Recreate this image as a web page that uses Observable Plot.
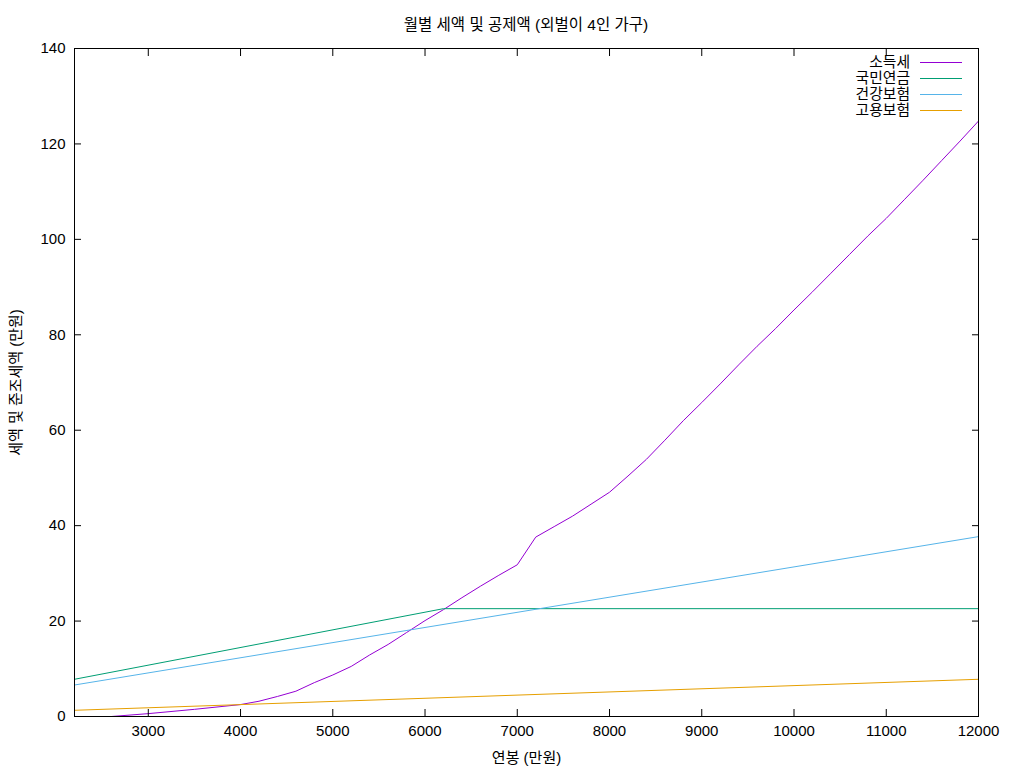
<!DOCTYPE html>
<html><head><meta charset="utf-8">
<script src="https://cdn.jsdelivr.net/npm/d3@7"></script>
<script src="https://cdn.jsdelivr.net/npm/@observablehq/plot@0.6"></script>
<style>
body{margin:0;background:#fff;font-family:"Liberation Sans","Noto Sans CJK KR",sans-serif;}
#wrap{position:relative;width:1024px;height:768px;background:#fff;}
#title{height:40px;box-sizing:border-box;padding-top:16px;padding-left:28px;line-height:18px;font-size:15.5px;text-align:center;color:#000;}
#legend{position:absolute;right:62px;top:54px;font-size:14.8px;color:#000;}
.row{display:flex;justify-content:flex-end;align-items:center;height:16px;line-height:16px;}
.sw{display:inline-block;width:42px;height:0;border-top:1px solid;margin-left:10px;}
</style></head>
<body>
<div id="wrap">
<div id="title">월별 세액 및 공제액 (외벌이 4인 가구)</div>
<div id="chart"></div>
<div id="legend"></div>
</div>
<script>
const seriesNames = ["소득세", "국민연금", "건강보험", "고용보험"];
const seriesColors = ["#9400d3", "#009e73", "#56b4e9", "#e69f00"];

const taxSalary = [2200, 2600, 3000, 3500, 4000, 4200, 4400, 4600, 4800, 5000, 5200, 5400, 5600, 5800, 6000, 6200, 6400, 6600, 6800, 7000, 7200, 7400, 7600, 7800, 8000, 8200, 8400, 8600, 8800, 9000, 9200, 9400, 9600, 9800, 10000, 10200, 10400, 10600, 10800, 11000, 11200, 11400, 11600, 11800, 12000];
const taxValue = [0, 0, 0.6, 1.5, 2.5, 3.2, 4.2, 5.3, 7.1, 8.7, 10.5, 12.9, 15.1, 17.6, 20.1, 22.4, 24.9, 27.3, 29.6, 31.8, 37.6, 39.8, 42.0, 44.5, 47.0, 50.4, 53.9, 57.9, 62.0, 65.8, 69.7, 73.7, 77.6, 81.3, 85.2, 89.0, 92.9, 96.8, 100.7, 104.4, 108.4, 112.4, 116.5, 120.6, 124.8];

const pensionSalary = [2200, 6200, 12000];
const pensionValue = [7.8, 22.6, 22.6];

const healthSalary = [2200, 12000];
const healthValue = [6.6, 37.7];

const employSalary = [2200, 12000];
const employValue = [1.3, 7.8];

const xTicks = [3000, 4000, 5000, 6000, 7000, 8000, 9000, 10000, 11000, 12000];
const yTicks = [0, 20, 40, 60, 80, 100, 120, 140];

const rows = [];
function add(name, xs, ys) { xs.forEach((x, i) => rows.push({series: name, salary: x, value: ys[i]})); }
add(seriesNames[0], taxSalary, taxValue);
add(seriesNames[1], pensionSalary, pensionValue);
add(seriesNames[2], healthSalary, healthValue);
add(seriesNames[3], employSalary, employValue);

const font = '"Liberation Sans","Noto Sans CJK KR",sans-serif';
const chart = Plot.plot({
  width: 1024, height: 728,
  marginTop: 8, marginBottom: 52, marginLeft: 74, marginRight: 46,
  style: {fontFamily: font, fontSize: "15px", background: "white", color: "black", overflow: "visible"},
  x: {domain: [2200, 12000]},
  y: {domain: [0, 140]},
  color: {domain: seriesNames, range: seriesColors},
  marks: [
    Plot.line(rows, {x: "salary", y: "value", z: "series", stroke: "series", strokeWidth: 1, clip: true}),
    Plot.axisX(xTicks, {anchor: "bottom", tickSize: 0, tickPadding: 9, tickFormat: d => String(d), label: "연봉 (만원)", labelAnchor: "center", labelArrow: "none", labelOffset: 46, fontSize: 15}),
    Plot.axisX(xTicks, {anchor: "bottom", tickSize: 7, text: null, dy: -7, label: null}),
    Plot.axisX(xTicks, {anchor: "top", tickSize: 7, text: null, dy: 7, label: null}),
    Plot.axisY(yTicks, {anchor: "left", tickSize: 0, tickPadding: 9, tickFormat: d => String(d), label: "세액 및 준조세액 (만원)", labelAnchor: "center", labelArrow: "none", labelOffset: 64, fontSize: 15}),
    Plot.axisY(yTicks, {anchor: "left", tickSize: 7, text: null, dx: 7, label: null}),
    Plot.axisY(yTicks, {anchor: "right", tickSize: 7, text: null, dx: -7, label: null}),
    Plot.frame({stroke: "black", strokeWidth: 1})
  ]
});
document.getElementById("chart").appendChild(chart);

const legend = document.getElementById("legend");
seriesNames.forEach((n, i) => {
  const r = document.createElement("div"); r.className = "row";
  const t = document.createElement("span"); t.textContent = n;
  const s = document.createElement("span"); s.className = "sw"; s.style.borderTopColor = seriesColors[i];
  r.appendChild(t); r.appendChild(s); legend.appendChild(r);
});
</script>
</body></html>
